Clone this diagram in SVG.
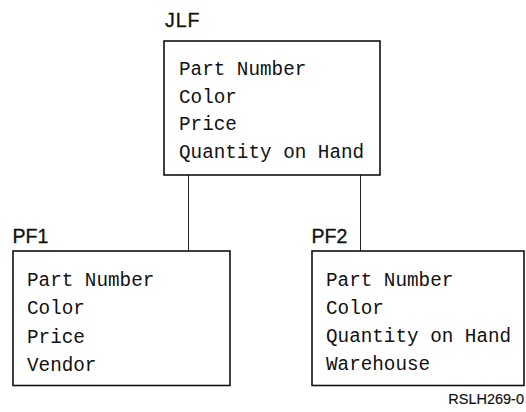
<svg xmlns="http://www.w3.org/2000/svg" width="526" height="412" viewBox="0 0 526 412">
  <style>
    .box { fill: #ffffff; stroke: #111111; stroke-width: 1.6; }
    .link { stroke: #222222; stroke-width: 1; fill: none; }
    .title { font-family: "Liberation Sans", Arial, sans-serif; font-size: 19.5px; fill: #111111; stroke: #111111; stroke-width: 0.3; }
    .field { font-family: "Liberation Mono", "DejaVu Sans Mono", monospace; font-size: 19.3px; fill: #111111; }
    .ref { font-family: "Liberation Sans", Arial, sans-serif; font-size: 14.5px; fill: #111111; stroke: #111111; stroke-width: 0.2; }
  </style>
  <rect width="526" height="412" fill="#ffffff"/>

  <g id="connectors">
    <line class="link" x1="188.5" y1="175" x2="188.5" y2="251"/>
    <line class="link" x1="360.5" y1="175" x2="360.5" y2="251"/>
  </g>

  <g id="JLF">
    <text class="title" x="165" y="26.5" letter-spacing="1">JLF</text>
    <rect class="box" x="164" y="41" width="216" height="134"/>
    <text class="field" x="179" y="75">Part Number</text>
    <text class="field" x="179" y="102.7">Color</text>
    <text class="field" x="179" y="130.3">Price</text>
    <text class="field" x="179" y="158">Quantity on Hand</text>
  </g>

  <g id="PF1">
    <text class="title" x="12.5" y="243">PF1</text>
    <rect class="box" x="13" y="251" width="217" height="134.5"/>
    <text class="field" x="27" y="285.7">Part Number</text>
    <text class="field" x="27" y="314">Color</text>
    <text class="field" x="27" y="342.5">Price</text>
    <text class="field" x="27" y="370.7">Vendor</text>
  </g>

  <g id="PF2">
    <text class="title" x="311.5" y="243">PF2</text>
    <rect class="box" x="312" y="251" width="212" height="134.5"/>
    <text class="field" x="326" y="285.7">Part Number</text>
    <text class="field" x="326" y="313.5">Color</text>
    <text class="field" x="326" y="341.5">Quantity on Hand</text>
    <text class="field" x="326" y="370">Warehouse</text>
  </g>

  <text class="ref" x="524" y="404" text-anchor="end">RSLH269-0</text>
</svg>
